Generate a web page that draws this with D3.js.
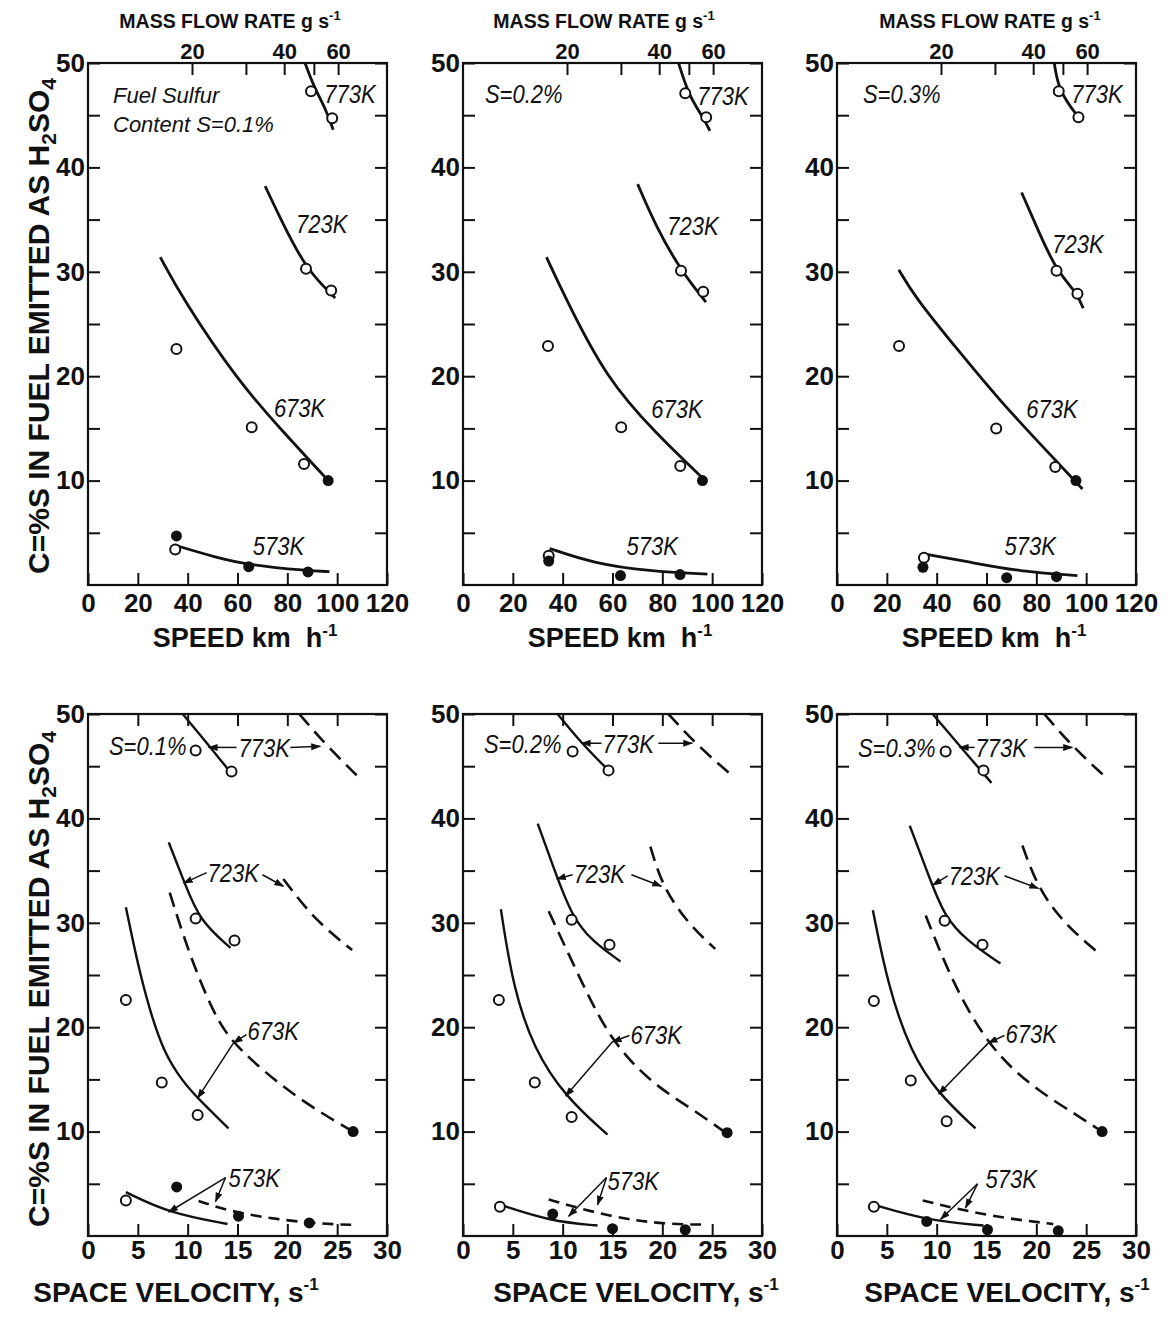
<!DOCTYPE html>
<html>
<head>
<meta charset="utf-8">
<script src="https://d3js.org/d3.v7.min.js"></script>
<style>
body { margin: 0; background: #fff; }
svg text { font-family: "Liberation Sans", Arial, sans-serif; fill: #111; }
.num { font-weight: bold; font-size: 26px; }
.flow { font-weight: bold; font-size: 22px; }
.title { font-weight: bold; white-space: pre; }
.lab { font-style: italic; font-size: 25px; }
</style>
</head>
<body>
<div id="chart"></div>
<script>
// axis values
var cTicks = [10, 20, 30, 40, 50];
var cMinor = [5, 15, 25, 35, 45];
var speedTicks = [0, 20, 40, 60, 80, 100, 120];
var velocityTicks = [0, 5, 10, 15, 20, 25, 30];
var flowTicks = [20, 30, 40, 50, 60];
var flowTickLabels = [20, 40, 60];
var sulfur = ["0.1", "0.2", "0.3"];

// top row: C vs speed (km/h)
var sp1_773 = [[87.1,50],[90.7,47.7],[95.6,45.5],[98.4,43.6]];
var sp1_723 = [[71.1,38.2],[77.4,35.0],[87.6,30.2],[99.2,27.5]];
var sp1_673 = [[29,31.4],[38.3,27.3],[60,19.6],[77.4,14.9],[96.4,10.0]];
var sp1_573 = [[35.1,3.8],[50.5,2.7],[64.6,1.9],[88.2,1.37],[96.9,1.28]];
var sp1_open = [[89.5,47.3],[98,44.7],[87.5,30.3],[97.6,28.2],[35.5,22.6],[65.7,15.1],[86.7,11.6],[35,3.4]];
var sp1_filled = [[96.4,10.0],[35.5,4.7],[64.5,1.75],[88.3,1.25]];

var sp2_773 = [[86.5,50],[90.8,46.8],[96.1,44.9],[99.1,43.5]];
var sp2_723 = [[70.1,38.4],[77.5,34.3],[87.5,30.1],[97.5,27.1]];
var sp2_673 = [[33.5,31.4],[41.5,27.3],[57.5,19.8],[77.5,14.5],[95.5,10.4]];
var sp2_573 = [[34.8,3.5],[52.1,2.1],[74.8,1.3],[98.1,1.05]];
var sp2_open = [[89.2,47.1],[97.6,44.8],[87.5,30.1],[96.4,28.1],[34.1,22.9],[63.5,15.1],[87.2,11.4],[34.4,2.8]];
var sp2_filled = [[96.1,10.0],[34.4,2.3],[63.2,0.9],[87.1,1.0]];

var sp3_773 = [[87.2,50],[89,47.3],[96.9,44.8]];
var sp3_723 = [[74.1,37.6],[81.2,33.7],[88.1,30.1],[96.5,27.9],[98.8,26.5]];
var sp3_673 = [[24.8,30.2],[31.2,27.6],[49.2,22.3],[65.2,17.7],[83.9,12.9],[98.5,9.2]];
var sp3_573 = [[34.5,3.0],[53.2,2.2],[73.2,1.3],[96.5,0.9]];
var sp3_open = [[89,47.3],[96.9,44.8],[88.1,30.1],[96.5,27.9],[24.9,22.9],[63.9,15.0],[87.6,11.3],[34.9,2.6]];
var sp3_filled = [[95.9,10.0],[34.5,1.7],[68.1,0.7],[88.1,0.8]];

// bottom row: C vs space velocity (1/s), solid and dashed curves
var sv1_773 = [[9.5,50],[11.7,47.5],[14.3,44.4]];
var sv1_773d = [[21.2,50],[24,46.9],[27.1,44.0]];
var sv1_723 = [[8.1,37.7],[9.7,33.8],[11.2,30.2],[14.3,27.6]];
var sv1_723d = [[19.6,34.2],[22.7,30.3],[26.5,27.4]];
var sv1_673 = [[3.8,31.5],[5.0,26.0],[6.2,21.6],[7.6,17.6],[9.5,14.8],[11.0,13.2],[14.1,10.3]];
var sv1_673d = [[8.2,32.9],[10,27.4],[12.7,21.0],[14.8,18.1],[20.7,13.3],[26.6,10.0]];
var sv1_573 = [[3.8,4.2],[8.1,2.2],[14.0,1.15]];
var sv1_573d = [[11.1,3.35],[15.1,2.1],[22.2,1.2],[27.1,1.05]];
var sv1_open = [[10.8,46.5],[14.4,44.5],[10.8,30.4],[14.7,28.3],[3.8,22.6],[7.4,14.7],[11.0,11.6],[3.8,3.4]];
var sv1_filled = [[26.6,10.0],[8.9,4.7],[15.1,1.9],[22.2,1.25]];

var sv2_773 = [[9.5,50],[11.8,47.3],[14.6,44.6]];
var sv2_773d = [[20.6,50],[23.5,47],[27.0,44.1]];
var sv2_723 = [[7.5,39.5],[9.0,35.5],[10.9,30.6],[13,28.2],[15.8,26.3]];
var sv2_723d = [[18.8,37.3],[20.0,33.5],[22.5,30.0],[25.3,27.5]];
var sv2_673 = [[3.8,31.3],[5.0,23.9],[7.1,17.9],[10.3,13.3],[14.5,9.7]];
var sv2_673d = [[8.6,31.1],[12.1,23.9],[14.8,18.8],[18.8,14.7],[22.8,12.3],[26.5,9.8]];
var sv2_573 = [[3.7,3.0],[8.8,1.4],[13.5,1.0]];
var sv2_573d = [[8.6,3.5],[14.8,1.8],[20.5,1.1],[24.5,1.1]];
var sv2_open = [[11.0,46.4],[14.6,44.6],[10.9,30.3],[14.7,27.9],[3.6,22.6],[7.2,14.7],[10.9,11.4],[3.7,2.8]];
var sv2_filled = [[26.5,9.9],[9.0,2.1],[15.0,0.7],[22.3,0.6]];

var sv3_773 = [[9.6,50],[12,47.3],[15.5,43.4]];
var sv3_773d = [[20.8,50],[23.5,47],[27,43.9]];
var sv3_723 = [[7.3,39.3],[9.4,34],[10.8,30.6],[13,28.3],[16.4,26.1]];
var sv3_723d = [[18.6,37.4],[20.2,33.2],[23,29.7],[26.5,26.9]];
var sv3_673 = [[3.6,31.2],[5.1,24.0],[7.4,17.6],[10.1,13.7],[13.9,10.3]];
var sv3_673d = [[8.9,30.7],[11.7,24.0],[15.4,17.9],[19.7,14.2],[23.7,11.8],[26.6,10.0]];
var sv3_573 = [[3.7,3.0],[9.1,1.5],[14.7,1.0]];
var sv3_573d = [[8.6,3.4],[15.1,1.9],[21.7,1.15]];
var sv3_open = [[10.9,46.4],[14.7,44.6],[10.8,30.2],[14.6,27.9],[3.7,22.5],[7.4,14.9],[11.0,11.0],[3.7,2.8]];
var sv3_filled = [[26.6,10.0],[9.0,1.4],[15.1,0.6],[22.2,0.5]];

// curve labels [text, x, y] in data units, arrows [x1,y1,x2,y2]
var topLabels = [
  [["773K",94.8,46.2],["723K",83.5,33.7],["673K",74.6,16.1],["573K",66.1,2.9]],
  [["S=0.2%",8.8,46.2],["773K",94,46.0],["723K",82,33.5],["673K",75.6,16.0],["573K",65.6,2.9]],
  [["S=0.3%",10.4,46.2],["773K",94,46.2],["723K",86.4,31.8],["673K",76,16.0],["573K",67.2,2.9]]
];
var bottomLabels = [
  [["S=0.1%",2.1,46.1],["773K",15.1,45.9],["723K",12.0,33.9],["673K",16.0,18.8],["573K",14.1,4.7]],
  [["S=0.2%",2.1,46.3],["773K",14.0,46.3],["723K",11.1,33.8],["673K",16.8,18.4],["573K",14.5,4.4]],
  [["S=0.3%",2.1,45.9],["773K",13.9,45.9],["723K",11.2,33.6],["673K",16.9,18.5],["573K",14.9,4.6]]
];
var bottomArrows = [
  [[14.9,46.8,12.1,46.8],[20.3,46.8,23.3,46.9],[11.9,34.8,9.6,33.8],[17.5,34.6,19.6,33.5],
   [15.9,19.3,14.6,18.5],[14.6,18.5,11.0,13.2],[13.8,5.6,8.1,2.3],[13.8,5.6,12.8,3.3]],
  [[13.9,47.2,11.9,47.2],[19.6,47.2,23.0,47.2],[11.0,34.6,9.4,34.2],[16.9,34.6,19.9,33.5],
   [16.7,19.2,15.0,18.6],[15.0,18.6,10.3,13.4],[14.4,5.6,10.6,1.9],[14.4,5.6,13.5,3.0]],
  [[13.8,46.8,12.3,46.8],[19.8,46.8,23.6,46.8],[11.1,34.5,9.6,33.6],[16.8,34.5,20.2,33.3],
   [16.8,19.2,15.2,18.5],[15.2,18.5,10.2,13.6],[14.1,5.0,10.4,1.6],[14.1,5.0,12.9,2.7]]
];

var topPanels = [
  {curves:[sp1_773,sp1_723,sp1_673,sp1_573], open:sp1_open, filled:sp1_filled},
  {curves:[sp2_773,sp2_723,sp2_673,sp2_573], open:sp2_open, filled:sp2_filled},
  {curves:[sp3_773,sp3_723,sp3_673,sp3_573], open:sp3_open, filled:sp3_filled}
];
var bottomPanels = [
  {curves:[sv1_773,sv1_723,sv1_673,sv1_573], dashed:[sv1_773d,sv1_723d,sv1_673d,sv1_573d], open:sv1_open, filled:sv1_filled},
  {curves:[sv2_773,sv2_723,sv2_673,sv2_573], dashed:[sv2_773d,sv2_723d,sv2_673d,sv2_573d], open:sv2_open, filled:sv2_filled},
  {curves:[sv3_773,sv3_723,sv3_673,sv3_573], dashed:[sv3_773d,sv3_723d,sv3_673d,sv3_573d], open:sv3_open, filled:sv3_filled}
];

var W = 299, H = 522;
var colLeft = [88, 463, 837];
var rowTop = [63, 714];

var svg = d3.select("#chart").append("svg")
  .attr("width", 1170).attr("height", 1323);

svg.append("defs").append("marker")
  .attr("id", "arrow").attr("viewBox", "0 0 10 10")
  .attr("refX", 9).attr("refY", 5)
  .attr("markerWidth", 10).attr("markerHeight", 10)
  .attr("markerUnits", "userSpaceOnUse").attr("orient", "auto")
  .append("path").attr("d", "M0,1.5L10,5L0,8.5Z").attr("fill", "#111");

// squeeze text horizontally, the original lettering is narrow
function condense(sel, k) {
  sel.each(function() {
    var len = this.getComputedTextLength();
    d3.select(this).attr("textLength", len * k).attr("lengthAdjust", "spacingAndGlyphs");
  });
}

function styleAxis(sel, cls) {
  sel.select(".domain").remove();
  sel.selectAll("line").attr("stroke", "#111").attr("stroke-width", 2);
  sel.selectAll("text").attr("class", cls).attr("fill", "#111");
  sel.attr("font-size", null).attr("font-family", null);
}

function drawPanel(col, row, p, labels, arrows) {
  var g = svg.append("g")
    .attr("transform", "translate(" + colLeft[col] + "," + rowTop[row] + ")");

  var x = d3.scaleLinear().domain(row == 0 ? [0, 120] : [0, 30]).range([0, W]);
  var y = d3.scaleLinear().domain([0, 50]).range([H, 0]);

  // bottom axis
  g.append("g").attr("transform", "translate(0," + H + ")")
    .call(d3.axisBottom(x).tickValues(row == 0 ? speedTicks : velocityTicks)
      .tickSize(-12).tickPadding(row == 0 ? 9 : 5))
    .call(styleAxis, "num");

  // top axis
  if (row == 0) {
    var flow = d3.scaleLog()
      .domain([20 * Math.exp(-104 / 133), 20 * Math.exp((W - 104) / 133)])
      .range([0, W]);
    g.append("g")
      .call(d3.axisTop(flow).tickValues(flowTicks).tickSize(-12).tickPadding(4)
        .tickFormat(d => flowTickLabels.indexOf(d) >= 0 ? d : ""))
      .call(styleAxis, "flow");
  } else {
    g.append("g")
      .call(d3.axisTop(x).tickValues(velocityTicks.slice(1, -1)).tickSize(-12).tickFormat(""))
      .call(styleAxis, "num");
  }

  // left / right axes
  g.append("g")
    .call(d3.axisLeft(y).tickValues(cTicks).tickSize(-12).tickPadding(3))
    .call(styleAxis, "num");
  g.append("g")
    .call(d3.axisLeft(y).tickValues(cMinor).tickSize(-12).tickFormat(""))
    .call(styleAxis, "num");
  g.append("g").attr("transform", "translate(" + W + ",0)")
    .call(d3.axisRight(y).tickValues(cMinor.concat(cTicks)).tickSize(-12).tickFormat(""))
    .call(styleAxis, "num");

  g.append("rect").attr("width", W).attr("height", H)
    .attr("fill", "none").attr("stroke", "#111").attr("stroke-width", 2.2);

  var line = d3.line()
    .x(d => x(d[0])).y(d => y(d[1]))
    .curve(d3.curveBasis);

  g.selectAll("path.solid")
    .data(p.curves).enter().append("path")
    .attr("class", "solid")
    .attr("d", line)
    .attr("fill", "none").attr("stroke", "#111")
    .attr("stroke-width", row == 0 ? 2.8 : 2.4);

  if (p.dashed) {
    g.selectAll("path.dash")
      .data(p.dashed).enter().append("path")
      .attr("class", "dash")
      .attr("d", line)
      .attr("fill", "none").attr("stroke", "#111")
      .attr("stroke-width", 2.6)
      .attr("stroke-dasharray", (d, i) => i == 3 ? "11,7" : "15,8");
  }

  g.selectAll("circle.open")
    .data(p.open).enter().append("circle")
    .attr("class", "open")
    .attr("cx", d => x(d[0])).attr("cy", d => y(d[1]))
    .attr("r", 5).attr("fill", "#fff")
    .attr("stroke", "#111").attr("stroke-width", 2);

  g.selectAll("circle.filled")
    .data(p.filled).enter().append("circle")
    .attr("class", "filled")
    .attr("cx", d => x(d[0])).attr("cy", d => y(d[1]))
    .attr("r", 5.5).attr("fill", "#111");

  if (arrows) {
    g.selectAll("line.arr")
      .data(arrows).enter().append("line")
      .attr("class", "arr")
      .attr("x1", d => x(d[0])).attr("y1", d => y(d[1]))
      .attr("x2", d => x(d[2])).attr("y2", d => y(d[3]))
      .attr("stroke", "#111").attr("stroke-width", 1.5)
      .attr("marker-end", "url(#arrow)");
  }

  g.selectAll("text.lab")
    .data(labels).enter().append("text")
    .attr("class", "lab")
    .attr("x", d => x(d[1])).attr("y", d => y(d[2]))
    .text(d => d[0])
    .call(condense, 0.88);

  return g;
}

for (var i = 0; i < 3; i++) {
  drawPanel(i, 0, topPanels[i], topLabels[i], null);
  drawPanel(i, 1, bottomPanels[i], bottomLabels[i], bottomArrows[i]);

  // speed title
  var t1 = svg.append("text").attr("class", "title").style("font-size", "27px")
    .attr("x", colLeft[i] + 157).attr("y", 647)
    .attr("text-anchor", "middle").text("SPEED km  h");
  t1.append("tspan").attr("dy", -11).style("font-size", "17px").text("-1");

  // mass flow title
  var t2 = svg.append("text").attr("class", "title").style("font-size", "19.5px")
    .attr("x", colLeft[i] + [142, 141, 153][i]).attr("y", 28)
    .attr("text-anchor", "middle").text("MASS FLOW RATE g s");
  t2.append("tspan").attr("dy", -8).style("font-size", "13px").text("-1");

  // space velocity title
  var t3 = svg.append("text").attr("class", "title").style("font-size", "28px")
    .attr("x", colLeft[i] + [88, 173, 170][i]).attr("y", 1302)
    .attr("text-anchor", "middle").text("SPACE VELOCITY, s");
  t3.append("tspan").attr("dy", -12).style("font-size", "17px").text("-1");
}

// Fuel sulfur note in first panel
var note = svg.append("text").attr("class", "lab").style("font-size", "22px")
  .attr("x", colLeft[0] + 25).attr("y", rowTop[0] + 40);
note.append("tspan").attr("x", colLeft[0] + 25).text("Fuel Sulfur");
note.append("tspan").attr("x", colLeft[0] + 25).attr("dy", 29).text("Content S=0.1%");

// y titles
[rowTop[0] + H / 2 + 2, rowTop[1] + H / 2 + 4].forEach(function(cy) {
  var t = svg.append("text").attr("class", "title").style("font-size", "30px")
    .attr("transform", "translate(49," + cy + ")rotate(-90)")
    .attr("text-anchor", "middle");
  t.append("tspan").text("C=%S IN FUEL EMITTED AS H");
  t.append("tspan").attr("dy", 7).style("font-size", "21px").text("2");
  t.append("tspan").attr("dy", -7).text("SO");
  t.append("tspan").attr("dy", 7).style("font-size", "21px").text("4");
});
</script>
</body>
</html>
